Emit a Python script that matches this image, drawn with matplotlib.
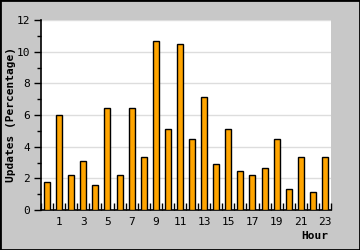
import numpy as np
import matplotlib.pyplot as plt
from matplotlib.ticker import MultipleLocator, FixedLocator

hours = list(range(24))
updates = [1.75, 6.0, 2.2, 3.1, 1.58, 6.45, 2.2, 6.45, 3.35, 10.65, 5.1, 10.48,
           4.47, 7.12, 2.9, 5.1, 2.45, 2.2, 2.63, 4.47, 1.33, 3.35, 1.12, 3.35]
tick_hours = [1, 3, 5, 7, 9, 11, 13, 15, 17, 19, 21, 23]

fig = plt.figure(figsize=(3.6, 2.5), dpi=100, facecolor='#c8c8c8')
ax = fig.add_axes([41/360, 40/250, 290/360, 190/250])
ax.set_facecolor('white')

ax.bar(hours, updates, width=0.5, color='#ffa500', edgecolor='black',
       linewidth=1.0, zorder=3)

ax.set_xlim(-0.5, 23.5)
ax.set_ylim(0, 12)

ax.yaxis.set_major_locator(MultipleLocator(2))
ax.yaxis.set_minor_locator(MultipleLocator(1))
ax.grid(axis='y', which='major', color='#dddddd', linewidth=1, zorder=0)

ax.xaxis.set_major_locator(FixedLocator(tick_hours))
ax.xaxis.set_minor_locator(FixedLocator(np.arange(-0.5, 24, 1)))
ax.tick_params(axis='x', which='major', length=0, pad=5, labelsize=8)
ax.tick_params(axis='x', which='minor', direction='in', length=5, width=1,
               color='black')
ax.tick_params(axis='y', which='major', direction='out', length=5, width=1,
               labelsize=8, pad=3)
ax.tick_params(axis='y', which='minor', direction='out', length=3, width=1)

for side in ['top', 'right']:
    ax.spines[side].set_visible(False)
for side in ['left', 'bottom']:
    ax.spines[side].set_linewidth(1.2)

for lbl in ax.get_xticklabels() + ax.get_yticklabels():
    lbl.set_family('DejaVu Sans Mono')

ax.set_ylabel('Updates (Percentage)', family='DejaVu Sans Mono',
              fontweight='bold', fontsize=8)
ax.yaxis.set_label_coords(-0.086, 0.5)
ax.set_xlabel('Hour', family='DejaVu Sans Mono', fontweight='bold',
              fontsize=8, loc='right')
ax.xaxis.set_label_coords(0.99, -0.11)

fig.patches.append(plt.Rectangle((0, 0), 1, 1, transform=fig.transFigure,
                                 fill=False, edgecolor='black', linewidth=2))

fig.savefig('out.png', dpi=100, facecolor=fig.get_facecolor())
